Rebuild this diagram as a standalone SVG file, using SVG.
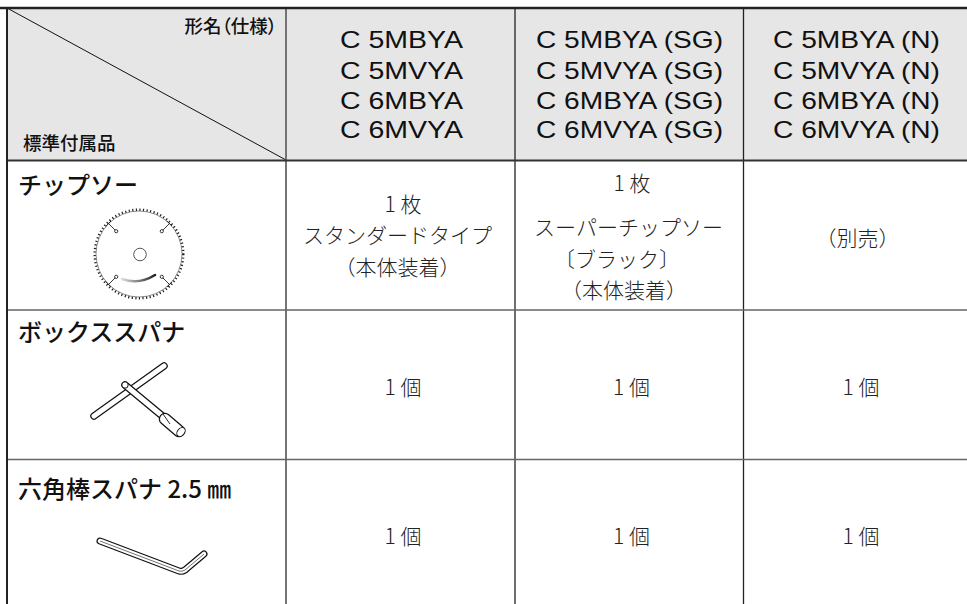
<svg xmlns="http://www.w3.org/2000/svg" width="967" height="604" viewBox="0 0 967 604">
<style>
.jp{font-family:"Noto Sans CJK JP","Noto Sans CJK SC",sans-serif;}
.hd{font-size:18.5px;font-weight:500;fill:#111;}
.item{font-size:24px;font-weight:500;fill:#111;}
.body{font-size:21px;font-weight:300;fill:#222;text-anchor:middle;}
.model{font-family:"Liberation Sans",Arial,sans-serif;font-size:24px;fill:#111;}
.grid line{stroke-linecap:butt;}
.out{fill:none;stroke:#111;stroke-linecap:round;stroke-linejoin:round;}
.in{fill:none;stroke:#fff;stroke-linecap:round;stroke-linejoin:round;}
</style>
<defs>
<linearGradient id="streak" x1="0" y1="0" x2="1" y2="0">
<stop offset="0" stop-color="#ddd"/>
<stop offset="1" stop-color="#222"/>
</linearGradient>
</defs>
<rect x="0" y="0" width="967" height="604" fill="#fff"/>
<rect id="header-bg" x="7" y="8" width="960" height="152" fill="#e6e6e6"/>

<g id="connectors" class="grid">
<line x1="7" y1="8" x2="286" y2="160" stroke="#111" stroke-width="1"/>
<line x1="286" y1="8" x2="286" y2="604" stroke="#666" stroke-width="1.8"/>
<line x1="515" y1="8" x2="515" y2="604" stroke="#222" stroke-width="1.3"/>
<line x1="743.5" y1="8" x2="743.5" y2="604" stroke="#222" stroke-width="1.3"/>
<line x1="7" y1="160.5" x2="967" y2="160.5" stroke="#333" stroke-width="2"/>
<line x1="7" y1="310" x2="967" y2="310" stroke="#666" stroke-width="1.6"/>
<line x1="7" y1="459.5" x2="967" y2="459.5" stroke="#666" stroke-width="1.6"/>
<line x1="0" y1="8" x2="967" y2="8" stroke="#222" stroke-width="2.5"/>
<line x1="7" y1="7" x2="7" y2="604" stroke="#222" stroke-width="2"/>
</g>

<g id="header-corner">
<text class="jp hd" x="277" y="33" text-anchor="end" style="font-feature-settings:'palt'">形名（仕様）</text>
<text class="jp hd" x="23" y="150">標準付属品</text>
</g>

<g id="header-col1" class="model">
<text x="340" y="48" textLength="123" lengthAdjust="spacingAndGlyphs">C 5MBYA</text>
<text x="340" y="78.5" textLength="123" lengthAdjust="spacingAndGlyphs">C 5MVYA</text>
<text x="340" y="108.5" textLength="123" lengthAdjust="spacingAndGlyphs">C 6MBYA</text>
<text x="340" y="138" textLength="123" lengthAdjust="spacingAndGlyphs">C 6MVYA</text>
</g>
<g id="header-col2" class="model">
<text x="536" y="48" textLength="187" lengthAdjust="spacingAndGlyphs">C 5MBYA (SG)</text>
<text x="536" y="78.5" textLength="187" lengthAdjust="spacingAndGlyphs">C 5MVYA (SG)</text>
<text x="536" y="108.5" textLength="187" lengthAdjust="spacingAndGlyphs">C 6MBYA (SG)</text>
<text x="536" y="138" textLength="187" lengthAdjust="spacingAndGlyphs">C 6MVYA (SG)</text>
</g>
<g id="header-col3" class="model">
<text x="773" y="48" textLength="167" lengthAdjust="spacingAndGlyphs">C 5MBYA (N)</text>
<text x="773" y="78.5" textLength="167" lengthAdjust="spacingAndGlyphs">C 5MVYA (N)</text>
<text x="773" y="108.5" textLength="167" lengthAdjust="spacingAndGlyphs">C 6MBYA (N)</text>
<text x="773" y="138" textLength="167" lengthAdjust="spacingAndGlyphs">C 6MVYA (N)</text>
</g>

<g id="item-chipsaw">
<text class="jp item" x="18" y="194">チップソー</text>
<g id="saw-icon">
<circle cx="139" cy="254" r="44.3" fill="none" stroke="#222" stroke-width="2.4" stroke-dasharray="1.2 2.4"/>
<circle cx="139" cy="254" r="43" fill="none" stroke="#444" stroke-width="0.6"/>
<circle cx="140" cy="254.5" r="6.3" fill="none" stroke="#444" stroke-width="0.9"/>
<g fill="none" stroke="#222" stroke-width="0.9">
<line x1="108.5" y1="223.5" x2="115" y2="230"/>
<line x1="106" y1="226" x2="111" y2="221"/>
<circle cx="116.2" cy="231.2" r="1.6"/>
<line x1="169.5" y1="223.5" x2="163" y2="230"/>
<line x1="167" y1="221" x2="172" y2="226"/>
<circle cx="161.8" cy="231.2" r="1.6"/>
<line x1="108.5" y1="284.5" x2="115" y2="278"/>
<line x1="106" y1="282" x2="111" y2="287"/>
<circle cx="116.2" cy="276.8" r="1.6"/>
<line x1="169.5" y1="284.5" x2="163" y2="278"/>
<line x1="172" y1="282" x2="167" y2="287"/>
<circle cx="161.8" cy="276.8" r="1.6"/>
</g>
<path d="M122,279 Q139,285 155,275" fill="none" stroke="url(#streak)" stroke-width="2.6" stroke-linecap="round"/>
</g>
</g>

<g id="item-boxspanner">
<text class="jp item" x="18" y="341">ボックススパナ</text>
<g id="spanner-icon">
<line class="out" x1="94" y1="416" x2="164" y2="366" stroke-width="7.5"/>
<line class="in" x1="94" y1="416" x2="164" y2="366" stroke-width="5"/>
<line class="out" x1="125" y1="385" x2="166" y2="419" stroke-width="7.5"/>
<line class="in" x1="125" y1="385" x2="166" y2="419" stroke-width="5"/>
<line class="out" x1="165" y1="419" x2="179" y2="431" stroke-width="12.5"/>
<line class="in" x1="165" y1="419" x2="179" y2="431" stroke-width="10"/>
<ellipse cx="181" cy="432" rx="3.5" ry="5" transform="rotate(40 181 432)" fill="#fff" stroke="#111" stroke-width="1"/>
<line x1="163" y1="414" x2="170" y2="424" stroke="#111" stroke-width="0.9"/>
<circle cx="125" cy="385" r="3.2" fill="#fff" stroke="#111" stroke-width="1"/>
</g>
</g>

<g id="item-hexkey">
<text class="jp item" x="18" y="498">六角棒スパナ 2.5 ㎜</text>
<g id="hexkey-icon">
<path class="out" d="M100,541 L179,571 Q182,572 185,570 L204,554" stroke-width="7"/>
<path class="in" d="M100,541 L179,571 Q182,572 185,570 L204,554" stroke-width="4.6"/>
<path d="M100,541 L179,571 Q182,572 185,570 L204,554" fill="none" stroke="#333" stroke-width="0.7"/>
</g>
</g>

<g id="cell-saw-col1" class="jp body">
<text x="403" y="212">1 枚</text>
<text x="397.5" y="243">スタンダードタイプ</text>
<text x="397.5" y="275">（本体装着）</text>
</g>
<g id="cell-saw-col2" class="jp body">
<text x="632" y="191">1 枚</text>
<text x="628.5" y="235">スーパーチップソー</text>
<text x="617" y="267">〔ブラック〕</text>
<text x="624" y="298">（本体装着）</text>
</g>
<g id="cell-saw-col3" class="jp body">
<text x="857.5" y="246">（別売）</text>
</g>

<g id="cell-box-col1" class="jp body"><text x="403" y="395">1 個</text></g>
<g id="cell-box-col2" class="jp body"><text x="631.5" y="395">1 個</text></g>
<g id="cell-box-col3" class="jp body"><text x="861" y="395">1 個</text></g>
<g id="cell-hex-col1" class="jp body"><text x="403" y="544">1 個</text></g>
<g id="cell-hex-col2" class="jp body"><text x="631.5" y="544">1 個</text></g>
<g id="cell-hex-col3" class="jp body"><text x="861" y="544">1 個</text></g>
</svg>
